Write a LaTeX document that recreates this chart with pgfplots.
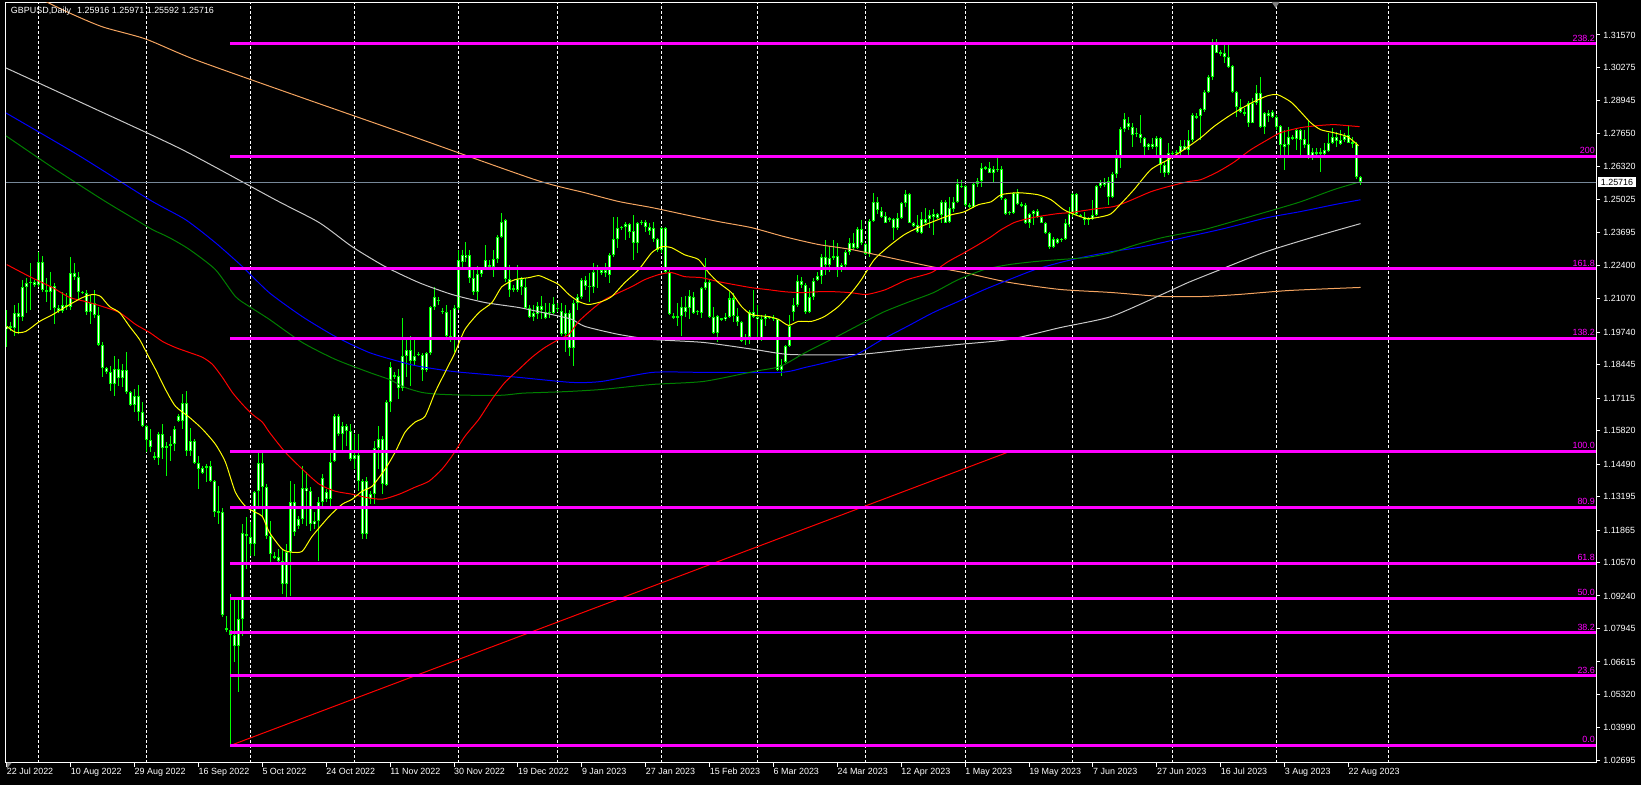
\documentclass[border=0pt]{standalone}
\usepackage{pgfplots}
\pgfplotsset{compat=1.18}
\usepackage{pgfplotstable}
\usepackage{fontspec}
\setmainfont{Liberation Sans}
\pgfdeclarelayer{background}
\pgfsetlayers{background,main}
\definecolor{candle}{RGB}{0,255,0}
\definecolor{fibo}{RGB}{255,0,255}
\definecolor{maA}{RGB}{255,255,0}
\definecolor{maB}{RGB}{255,0,0}
\definecolor{maC}{RGB}{0,128,0}
\definecolor{maD}{RGB}{0,0,255}
\definecolor{maE}{RGB}{200,200,200}
\definecolor{maF}{RGB}{244,164,96}
\definecolor{pline}{RGB}{119,136,153}

\pgfplotstableread{
i o h l c
0 1.1985 1.2064 1.1917 1.1997
1 1.1997 1.2013 1.1977 1.1989
2 1.1989 1.2084 1.1957 1.2052
3 1.2052 1.2092 1.1965 1.2036
4 1.2036 1.2183 1.2017 1.2155
5 1.2155 1.2191 1.2052 1.2171
6 1.2171 1.2251 1.2064 1.2175
7 1.2175 1.2183 1.2155 1.2163
8 1.2163 1.2294 1.2155 1.2255
9 1.2255 1.2278 1.2135 1.2143
10 1.2143 1.2191 1.2096 1.2135
11 1.2135 1.2215 1.2064 1.2159
12 1.2159 1.2171 1.2005 1.2072
13 1.2072 1.2084 1.2052 1.2060
14 1.2060 1.2135 1.2052 1.2084
15 1.2084 1.2131 1.2064 1.2076
16 1.2076 1.2275 1.2064 1.2211
17 1.2211 1.2251 1.2183 1.2195
18 1.2195 1.2215 1.2104 1.2135
19 1.2135 1.2139 1.2124 1.2131
20 1.2131 1.2143 1.2044 1.2056
21 1.2056 1.2124 1.2005 1.2092
22 1.2092 1.2143 1.2032 1.2044
23 1.2044 1.2076 1.1917 1.1925
24 1.1925 1.1933 1.1794 1.1830
25 1.1830 1.1834 1.1806 1.1814
26 1.1814 1.1838 1.1738 1.1766
27 1.1766 1.1878 1.1719 1.1826
28 1.1826 1.1866 1.1758 1.1790
29 1.1790 1.1846 1.1754 1.1822
30 1.1822 1.1897 1.1727 1.1734
31 1.1734 1.1738 1.1679 1.1683
32 1.1683 1.1746 1.1655 1.1719
33 1.1719 1.1762 1.1620 1.1655
34 1.1655 1.1695 1.1596 1.1600
35 1.1600 1.1604 1.1496 1.1544
36 1.1544 1.1588 1.1496 1.1516
37 1.1481 1.1496 1.1465 1.1473
38 1.1473 1.1576 1.1445 1.1568
39 1.1568 1.1608 1.1469 1.1512
40 1.1512 1.1536 1.1401 1.1520
41 1.1520 1.1560 1.1461 1.1528
42 1.1528 1.1600 1.1500 1.1588
43 1.1620 1.1647 1.1616 1.1639
44 1.1620 1.1727 1.1588 1.1691
45 1.1691 1.1738 1.1481 1.1500
46 1.1500 1.1592 1.1481 1.1540
47 1.1540 1.1548 1.1449 1.1453
48 1.1453 1.1481 1.1349 1.1429
49 1.1433 1.1441 1.1409 1.1413
50 1.1437 1.1449 1.1377 1.1441
51 1.1441 1.1461 1.1377 1.1381
52 1.1381 1.1385 1.1237 1.1257
53 1.1257 1.1361 1.1210 1.1261
54 1.1257 1.1273 1.0840 1.0848
55 1.0797 1.0844 1.0781 1.0789
56 1.0789 1.0932 1.0328 1.0769
57 1.0769 1.0912 1.0662 1.0725
58 1.0725 1.0920 1.0542 1.0833
59 1.0833 1.1210 1.0765 1.1174
60 1.1170 1.1237 1.1031 1.1166
61 1.1158 1.1218 1.1083 1.1130
62 1.1130 1.1341 1.1083 1.1337
63 1.1341 1.1492 1.1281 1.1453
64 1.1453 1.1496 1.1241 1.1357
65 1.1357 1.1369 1.1150 1.1162
66 1.1162 1.1222 1.1059 1.1090
67 1.1079 1.1098 1.1071 1.1083
68 1.1079 1.1110 1.1051 1.1063
69 1.1063 1.1110 1.0932 1.0971
70 1.0971 1.1130 1.0920 1.1098
71 1.1098 1.1381 1.0924 1.1297
72 1.1297 1.1369 1.1162 1.1178
73 1.1202 1.1241 1.1190 1.1230
74 1.1230 1.1441 1.1210 1.1353
75 1.1353 1.1417 1.1202 1.1341
76 1.1341 1.1357 1.1182 1.1210
77 1.1210 1.1257 1.1190 1.1222
78 1.1222 1.1318 1.1063 1.1297
79 1.1297 1.1409 1.1269 1.1393
80 1.1337 1.1349 1.1297 1.1309
81 1.1309 1.1500 1.1269 1.1457
82 1.1461 1.1647 1.1457 1.1639
83 1.1639 1.1647 1.1560 1.1568
84 1.1568 1.1616 1.1504 1.1600
85 1.1600 1.1608 1.1520 1.1580
86 1.1580 1.1608 1.1461 1.1469
87 1.1469 1.1568 1.1429 1.1484
88 1.1484 1.1568 1.1341 1.1381
89 1.1381 1.1389 1.1150 1.1170
90 1.1170 1.1397 1.1150 1.1381
91 1.1330 1.1341 1.1289 1.1309
92 1.1330 1.1540 1.1289 1.1512
93 1.1512 1.1600 1.1429 1.1548
94 1.1548 1.1560 1.1330 1.1369
95 1.1365 1.1703 1.1361 1.1695
96 1.1695 1.1854 1.1655 1.1834
97 1.1802 1.1814 1.1786 1.1798
98 1.1798 1.1826 1.1707 1.1750
99 1.1750 1.2032 1.1738 1.1878
100 1.1878 1.1945 1.1794 1.1905
101 1.1905 1.1957 1.1758 1.1858
102 1.1858 1.1945 1.1838 1.1881
103 1.1889 1.1897 1.1881 1.1885
104 1.1885 1.1893 1.1778 1.1822
105 1.1822 1.1897 1.1814 1.1893
106 1.1893 1.2080 1.1885 1.2076
107 1.2076 1.2155 1.2064 1.2112
108 1.2104 1.2112 1.2084 1.2100
109 1.2060 1.2072 1.2048 1.2056
110 1.2056 1.2084 1.1945 1.1957
111 1.1957 1.2064 1.1933 1.1945
112 1.1945 1.2084 1.1897 1.2072
113 1.2072 1.2302 1.2064 1.2263
114 1.2255 1.2302 1.2223 1.2282
115 1.2271 1.2334 1.2255 1.2282
116 1.2282 1.2302 1.2171 1.2191
117 1.2191 1.2235 1.2124 1.2135
118 1.2135 1.2239 1.2104 1.2207
119 1.2207 1.2235 1.2195 1.2231
120 1.2231 1.2322 1.2223 1.2263
121 1.2243 1.2263 1.2223 1.2235
122 1.2235 1.2302 1.2195 1.2267
123 1.2267 1.2362 1.2251 1.2354
124 1.2354 1.2449 1.2350 1.2413
125 1.2422 1.2426 1.2175 1.2187
126 1.2187 1.2243 1.2116 1.2143
127 1.2151 1.2163 1.2135 1.2143
128 1.2143 1.2243 1.2135 1.2187
129 1.2187 1.2195 1.2124 1.2155
130 1.2155 1.2191 1.2068 1.2072
131 1.2072 1.2084 1.2032 1.2036
132 1.2036 1.2084 1.2017 1.2052
133 1.2048 1.2096 1.2025 1.2080
134 1.2080 1.2116 1.2025 1.2064
135 1.2056 1.2092 1.2025 1.2032
136 1.2052 1.2092 1.2032 1.2056
137 1.2052 1.2116 1.2048 1.2088
138 1.2072 1.2092 1.2056 1.2068
139 1.2060 1.2092 1.1957 1.1965
140 1.1965 1.2084 1.1897 1.2052
141 1.2052 1.2064 1.1878 1.1913
142 1.1913 1.2104 1.1838 1.2092
143 1.2092 1.2124 1.2064 1.2116
144 1.2116 1.2191 1.2108 1.2183
145 1.2183 1.2199 1.2143 1.2159
146 1.2159 1.2211 1.2096 1.2155
147 1.2155 1.2251 1.2131 1.2215
148 1.2223 1.2243 1.2151 1.2231
149 1.2223 1.2231 1.2203 1.2211
150 1.2211 1.2251 1.2195 1.2223
151 1.2203 1.2290 1.2171 1.2282
152 1.2282 1.2433 1.2275 1.2346
153 1.2346 1.2433 1.2310 1.2390
154 1.2390 1.2398 1.2382 1.2394
155 1.2394 1.2414 1.2342 1.2406
156 1.2406 1.2410 1.2350 1.2374
157 1.2378 1.2441 1.2263 1.2330
158 1.2330 1.2414 1.2290 1.2410
159 1.2410 1.2422 1.2402 1.2414
160 1.2414 1.2422 1.2374 1.2394
161 1.2394 1.2410 1.2362 1.2378
162 1.2390 1.2414 1.2334 1.2346
163 1.2346 1.2350 1.2294 1.2302
164 1.2302 1.2394 1.2290 1.2390
165 1.2390 1.2394 1.2211 1.2215
166 1.2215 1.2223 1.2044 1.2048
167 1.2040 1.2052 1.2028 1.2032
168 1.2032 1.2092 1.1997 1.2040
169 1.2040 1.2116 1.1957 1.2076
170 1.2076 1.2116 1.2036 1.2056
171 1.2072 1.2143 1.2025 1.2116
172 1.2116 1.2135 1.2048 1.2052
173 1.2056 1.2064 1.2044 1.2060
174 1.2052 1.2155 1.2032 1.2151
175 1.2151 1.2271 1.2143 1.2175
176 1.2175 1.2183 1.2032 1.2036
177 1.2036 1.2076 1.1965 1.1969
178 1.1969 1.2044 1.1933 1.2040
179 1.2028 1.2032 1.2017 1.2025
180 1.2025 1.2052 1.2017 1.2036
181 1.2036 1.2135 1.2032 1.2108
182 1.2108 1.2131 1.2013 1.2040
183 1.2040 1.2072 1.1997 1.2013
184 1.2013 1.2017 1.1933 1.1937
185 1.1945 1.1965 1.1925 1.1953
186 1.1953 1.2064 1.1925 1.2056
187 1.2056 1.2143 1.2032 1.2036
188 1.2036 1.2084 1.1953 1.2025
189 1.2025 1.2044 1.1937 1.1945
190 1.2028 1.2048 1.1997 1.2040
191 1.2036 1.2040 1.2025 1.2032
192 1.2032 1.2044 1.2017 1.2025
193 1.2025 1.2028 1.1818 1.1822
194 1.1822 1.1866 1.1798 1.1842
195 1.1854 1.1925 1.1850 1.1921
196 1.1921 1.2044 1.1917 1.1997
197 1.2056 1.2112 1.2017 1.2084
198 1.2084 1.2203 1.2076 1.2179
199 1.2179 1.2195 1.2151 1.2163
200 1.2163 1.2171 1.2048 1.2056
201 1.2056 1.2151 1.2052 1.2116
202 1.2116 1.2191 1.2104 1.2179
203 1.2183 1.2215 1.2179 1.2199
204 1.2199 1.2286 1.2167 1.2275
205 1.2275 1.2342 1.2203 1.2243
206 1.2243 1.2318 1.2215 1.2271
207 1.2271 1.2342 1.2263 1.2278
208 1.2278 1.2330 1.2195 1.2231
209 1.2231 1.2251 1.2215 1.2243
210 1.2243 1.2302 1.2223 1.2294
211 1.2294 1.2350 1.2282 1.2330
212 1.2330 1.2370 1.2302 1.2310
213 1.2310 1.2394 1.2306 1.2386
214 1.2386 1.2422 1.2322 1.2330
215 1.2326 1.2330 1.2282 1.2286
216 1.2286 1.2426 1.2275 1.2418
217 1.2418 1.2529 1.2414 1.2493
218 1.2493 1.2513 1.2445 1.2461
219 1.2457 1.2473 1.2429 1.2433
220 1.2437 1.2453 1.2410 1.2410
221 1.2422 1.2433 1.2414 1.2429
222 1.2426 1.2429 1.2342 1.2390
223 1.2390 1.2449 1.2382 1.2429
224 1.2429 1.2493 1.2426 1.2489
225 1.2489 1.2541 1.2473 1.2525
226 1.2525 1.2529 1.2410 1.2410
227 1.2410 1.2414 1.2394 1.2398
228 1.2402 1.2441 1.2370 1.2374
229 1.2370 1.2453 1.2366 1.2426
230 1.2426 1.2469 1.2402 1.2410
231 1.2426 1.2461 1.2390 1.2441
232 1.2445 1.2465 1.2362 1.2433
233 1.2429 1.2449 1.2426 1.2445
234 1.2441 1.2501 1.2410 1.2493
235 1.2493 1.2501 1.2410 1.2410
236 1.2414 1.2513 1.2410 1.2469
237 1.2465 1.2513 1.2453 1.2493
238 1.2493 1.2585 1.2489 1.2565
239 1.2557 1.2581 1.2549 1.2553
240 1.2557 1.2561 1.2473 1.2481
241 1.2481 1.2489 1.2469 1.2473
242 1.2473 1.2573 1.2469 1.2565
243 1.2565 1.2589 1.2553 1.2577
244 1.2577 1.2649 1.2553 1.2629
245 1.2625 1.2637 1.2621 1.2633
246 1.2629 1.2653 1.2609 1.2609
247 1.2609 1.2637 1.2573 1.2625
248 1.2625 1.2680 1.2613 1.2621
249 1.2625 1.2637 1.2501 1.2509
250 1.2505 1.2509 1.2441 1.2445
251 1.2453 1.2457 1.2441 1.2449
252 1.2449 1.2533 1.2445 1.2529
253 1.2529 1.2545 1.2481 1.2485
254 1.2485 1.2493 1.2473 1.2477
255 1.2481 1.2489 1.2406 1.2410
256 1.2410 1.2449 1.2390 1.2445
257 1.2445 1.2461 1.2402 1.2457
258 1.2457 1.2465 1.2429 1.2433
259 1.2433 1.2437 1.2410 1.2410
260 1.2410 1.2414 1.2366 1.2370
261 1.2370 1.2374 1.2306 1.2314
262 1.2314 1.2354 1.2310 1.2346
263 1.2346 1.2350 1.2326 1.2330
264 1.2342 1.2350 1.2334 1.2346
265 1.2346 1.2426 1.2342 1.2410
266 1.2402 1.2473 1.2394 1.2445
267 1.2445 1.2529 1.2433 1.2525
268 1.2525 1.2529 1.2441 1.2445
269 1.2441 1.2445 1.2433 1.2433
270 1.2433 1.2453 1.2402 1.2422
271 1.2422 1.2433 1.2402 1.2426
272 1.2426 1.2501 1.2422 1.2441
273 1.2441 1.2561 1.2437 1.2557
274 1.2557 1.2581 1.2549 1.2573
275 1.2573 1.2589 1.2553 1.2561
276 1.2577 1.2593 1.2481 1.2513
277 1.2513 1.2613 1.2509 1.2605
278 1.2605 1.2700 1.2589 1.2669
279 1.2669 1.2792 1.2629 1.2784
280 1.2784 1.2847 1.2772 1.2824
281 1.2808 1.2831 1.2780 1.2792
282 1.2792 1.2808 1.2712 1.2760
283 1.2768 1.2788 1.2752 1.2764
284 1.2764 1.2839 1.2728 1.2748
285 1.2748 1.2752 1.2680 1.2712
286 1.2712 1.2728 1.2700 1.2724
287 1.2724 1.2748 1.2704 1.2712
288 1.2712 1.2756 1.2676 1.2748
289 1.2748 1.2752 1.2609 1.2641
290 1.2641 1.2653 1.2593 1.2609
291 1.2609 1.2728 1.2601 1.2688
292 1.2684 1.2696 1.2669 1.2688
293 1.2688 1.2700 1.2672 1.2692
294 1.2692 1.2740 1.2680 1.2716
295 1.2716 1.2740 1.2700 1.2700
296 1.2700 1.2780 1.2669 1.2740
297 1.2740 1.2847 1.2732 1.2839
298 1.2835 1.2847 1.2824 1.2827
299 1.2835 1.2867 1.2740 1.2863
300 1.2859 1.2938 1.2851 1.2930
301 1.2930 1.2998 1.2926 1.2990
302 1.2990 1.3141 1.2978 1.3125
303 1.3125 1.3141 1.3085 1.3085
304 1.3089 1.3097 1.3073 1.3081
305 1.3085 1.3117 1.3046 1.3070
306 1.3070 1.3125 1.3026 1.3030
307 1.3034 1.3038 1.2926 1.2930
308 1.2930 1.2934 1.2831 1.2871
309 1.2871 1.2903 1.2847 1.2851
310 1.2851 1.2867 1.2835 1.2843
311 1.2808 1.2895 1.2792 1.2887
312 1.2887 1.2907 1.2808 1.2808
313 1.2887 1.2958 1.2879 1.2926
314 1.2926 1.2990 1.2788 1.2792
315 1.2792 1.2851 1.2764 1.2847
316 1.2847 1.2859 1.2812 1.2835
317 1.2851 1.2859 1.2827 1.2831
318 1.2831 1.2839 1.2780 1.2792
319 1.2796 1.2800 1.2676 1.2720
320 1.2724 1.2780 1.2621 1.2712
321 1.2720 1.2792 1.2680 1.2752
322 1.2744 1.2760 1.2740 1.2752
323 1.2744 1.2788 1.2700 1.2780
324 1.2780 1.2784 1.2680 1.2740
325 1.2744 1.2780 1.2708 1.2720
326 1.2724 1.2820 1.2665 1.2669
327 1.2669 1.2708 1.2661 1.2692
328 1.2692 1.2708 1.2680 1.2684
329 1.2692 1.2708 1.2613 1.2684
330 1.2684 1.2728 1.2680 1.2700
331 1.2696 1.2768 1.2692 1.2728
332 1.2728 1.2788 1.2724 1.2752
333 1.2752 1.2772 1.2712 1.2736
334 1.2740 1.2780 1.2720 1.2724
335 1.2740 1.2768 1.2732 1.2756
336 1.2760 1.2800 1.2728 1.2728
337 1.2732 1.2752 1.2708 1.2724
338 1.2724 1.2732 1.2585 1.2593
339 1.2592 1.2597 1.2559 1.2572
}\candles

\begin{document}
\pagecolor{black}
\begin{tikzpicture}[x=1bp,y=1bp]
\begin{axis}[
  scale only axis, width=1593bp, height=761bp,
  xmin=-0.25, xmax=398, ymin=1.02604, ymax=1.32842,
  axis line style={white, line width=1bp},
  xtick={0,16,...,336},
  xticklabels={22 Jul 2022,10 Aug 2022,29 Aug 2022,16 Sep 2022,5 Oct 2022,24 Oct 2022,11 Nov 2022,30 Nov 2022,19 Dec 2022,9 Jan 2023,27 Jan 2023,15 Feb 2023,6 Mar 2023,24 Mar 2023,12 Apr 2023,1 May 2023,19 May 2023,7 Jun 2023,27 Jun 2023,16 Jul 2023,3 Aug 2023,22 Aug 2023},
  ytick={1.31570,1.30275,1.28945,1.27650,1.26320,1.25025,1.23695,1.22400,1.21070,1.19740,1.18445,1.17115,1.15820,1.14490,1.13195,1.11865,1.10570,1.09240,1.07945,1.06615,1.05320,1.03990,1.02695},
  yticklabels={1.31570,1.30275,1.28945,1.27650,1.26320,1.25025,1.23695,1.22400,1.21070,1.19740,1.18445,1.17115,1.15820,1.14490,1.13195,1.11865,1.10570,1.09240,1.07945,1.06615,1.05320,1.03990,1.02695},
  xtick pos=bottom, ytick pos=right,
  tick align=outside, major tick length=4bp,
  tick style={white, line width=1bp},
  ticklabel style={white, font=\fontsize{9}{10}\selectfont, inner sep=0pt},
  xticklabel style={anchor=north west, yshift=-1bp},
  yticklabel style={anchor=west, xshift=3bp},
  major grid style={white, line width=1bp, dash pattern=on 3bp off 2bp},
  extra x ticks={8,35,61,87,113,138,164,188,215,240,267,292,318,346},
  extra x tick labels={},
  extra x tick style={grid=major, major tick length=0pt},
  every axis plot/.append style={line join=round},
]
% candle wicks
\addplot[draw=none, mark=none, error bars/.cd, y dir=both, y explicit, error mark=none,
  error bar style={draw=candle, line width=1bp}]
  table[x=i, y expr={(\thisrow{h}+\thisrow{l})/2}, y error expr={(\thisrow{h}-\thisrow{l})/2}] {\candles};
% candle bodies (outline)
\addplot[draw=none, mark=none, error bars/.cd, y dir=both, y explicit, error mark=none,
  error bar style={draw=candle, line width=3bp}]
  table[x=i, y expr={(\thisrow{o}+\thisrow{c})/2}, y error expr={max(abs(\thisrow{o}-\thisrow{c})/2,0.0002)}] {\candles};
% candle bodies (fill)
\addplot[draw=none, mark=none, error bars/.cd, y dir=both, y explicit, error mark=none,
  error bar style={draw=white, line width=1bp}]
  table[x=i, y expr={(\thisrow{o}+\thisrow{c})/2}, y error expr={max(abs(\thisrow{o}-\thisrow{c})/2-0.0004,0)}] {\candles};

% moving averages
\addplot[maF, line width=1bp, smooth, tension=0.4] coordinates {(9,1.3296) (15.75,1.3244) (24,1.3189) (34.75,1.3141) (47.25,1.3058) (74,1.2907) (99,1.2768) (132.25,1.2581) (144.75,1.2529) (153.25,1.2494) (161.5,1.2470) (169.75,1.2442) (178.25,1.2414) (186.5,1.2390) (194.75,1.2354) (203.25,1.2323) (211.5,1.2303) (223.25,1.2263) (231.5,1.2235) (239.75,1.2211) (251,1.2172) (263.75,1.2144) (276.5,1.2132) (289.25,1.2116) (299.5,1.2116) (308.5,1.2124) (321.25,1.2140) (339,1.2152)};
\addplot[maE, line width=1bp, smooth, tension=0.4] coordinates {(-0.25,1.3026) (21.5,1.2867) (44,1.2700) (67.25,1.2501) (78.25,1.2410) (86.5,1.2314) (94.75,1.2235) (103.25,1.2171) (111.5,1.2124) (119.75,1.2092) (128.25,1.2072) (136.5,1.2044) (141.5,1.2025) (144.75,1.1997) (153.25,1.1965) (161.75,1.1945) (174.5,1.1933) (187.25,1.1905) (196.25,1.1885) (212.75,1.1885) (225.5,1.1905) (238.25,1.1925) (251,1.1945) (263.75,1.1992) (276.5,1.2036) (289.25,1.2124) (295.75,1.2171) (302,1.2211) (314.75,1.2291) (327.5,1.2354) (339,1.2406)};
\addplot[maD, line width=1bp, smooth, tension=0.4] coordinates {(-0.25,1.2847) (17.75,1.2680) (35.75,1.2501) (44.75,1.2422) (52.25,1.2330) (59,1.2235) (65.75,1.2131) (74,1.2036) (82.25,1.1957) (90.75,1.1893) (99,1.1854) (103.25,1.1838) (111.5,1.1818) (119.75,1.1806) (128.25,1.1794) (141.5,1.1774) (149,1.1778) (161.75,1.1814) (174.5,1.1814) (193.75,1.1814) (200,1.1834) (206.5,1.1858) (212.75,1.1885) (219.25,1.1945) (225.5,1.1997) (232,1.2052) (238.25,1.2096) (244.75,1.2143) (251,1.2183) (257.5,1.2223) (263.75,1.2251) (270.25,1.2275) (276.5,1.2294) (283,1.2310) (289.25,1.2330) (295.75,1.2354) (304.75,1.2386) (315.75,1.2430) (324,1.2454) (332.25,1.2481) (339,1.2501)};
\addplot[maC, line width=1bp, smooth, tension=0.4] coordinates {(-0.25,1.2756) (11.5,1.2629) (24,1.2501) (32.25,1.2422) (36.5,1.2382) (40.75,1.2350) (45.75,1.2303) (52.25,1.2223) (57.25,1.2116) (60.75,1.2076) (65.75,1.2025) (74,1.1933) (82.25,1.1866) (90.75,1.1814) (95.75,1.1786) (99.75,1.1754) (104,1.1734) (108.25,1.1727) (115.75,1.1723) (124,1.1723) (129,1.1731) (134,1.1734) (140.75,1.1738) (149,1.1746) (161.75,1.1766) (174.5,1.1778) (187.25,1.1818) (193.75,1.1838) (200,1.1893) (206.5,1.1945) (212.75,1.1997) (219.25,1.2052) (225.5,1.2092) (232,1.2131) (238.25,1.2183) (244.75,1.2223) (251,1.2243) (257.5,1.2255) (263.75,1.2263) (270.25,1.2271) (276.5,1.2290) (283,1.2323) (289.25,1.2350) (295.75,1.2370) (300.75,1.2386) (315.75,1.2454) (324,1.2493) (332.25,1.2541) (339,1.2573)};
\addplot[maB, line width=1bp, smooth, tension=0.4] coordinates {(0,1.2243) (5.75,1.2195) (11.5,1.2151) (15.75,1.2112) (19.75,1.2096) (24,1.2076) (28.25,1.2052) (32.25,1.2005) (35.75,1.1973) (39,1.1937) (42.25,1.1913) (45.75,1.1893) (49,1.1874) (51.5,1.1846) (54,1.1794) (56.5,1.1734) (59,1.1687) (61.5,1.1647) (64,1.1616) (65.75,1.1576) (69.75,1.1496) (74,1.1429) (78.25,1.1369) (82.25,1.1341) (86.5,1.1329) (89.75,1.1317) (94,1.1309) (98.25,1.1329) (102.25,1.1357) (105.75,1.1381) (109,1.1429) (111.5,1.1481) (114.75,1.1560) (118.25,1.1628) (121.5,1.1707) (124.75,1.1774) (128.25,1.1826) (131.5,1.1874) (134.75,1.1913) (138.25,1.1945) (140.75,1.1965) (143.25,1.2017) (146.5,1.2064) (149.75,1.2104) (153.25,1.2131) (156.5,1.2155) (159.75,1.2183) (163.25,1.2203) (166.5,1.2211) (169.75,1.2195) (174,1.2191) (178.25,1.2175) (182.25,1.2163) (186.5,1.2151) (190.75,1.2143) (194.75,1.2135) (199,1.2131) (203.25,1.2135) (207.25,1.2135) (211.5,1.2131) (215.25,1.2124) (220,1.2143) (225.5,1.2183) (231.5,1.2211) (235.75,1.2255) (239.75,1.2290) (243.25,1.2322) (246.5,1.2354) (249,1.2382) (252.25,1.2410) (254.75,1.2422) (258.25,1.2434) (263.25,1.2446) (266.5,1.2450) (269.75,1.2458) (273.25,1.2466) (277.25,1.2474) (280.75,1.2494) (286.5,1.2533) (290.75,1.2553) (295.75,1.2573) (299,1.2581) (303.25,1.2612) (307.25,1.2650) (311.5,1.2700) (315.75,1.2740) (319,1.2768) (324,1.2788) (328.25,1.2796) (332.25,1.2800) (335.75,1.2796) (338.75,1.2792)};
\addplot[maA, line width=1bp, smooth, tension=0.4] coordinates {(0,1.1997) (2.25,1.1973) (4.75,1.1977) (8.25,1.2017) (11.5,1.2044) (15.75,1.2084) (19,1.2112) (21.5,1.2124) (23.5,1.2116) (25.75,1.2076) (28.25,1.2052) (30.75,1.1997) (33.25,1.1945) (35.25,1.1885) (37.25,1.1826) (39.75,1.1746) (42.25,1.1679) (45.75,1.1635) (49,1.1588) (52.25,1.1528) (54.75,1.1457) (57.25,1.1337) (59.75,1.1281) (62.25,1.1257) (64,1.1241) (65.75,1.1178) (69,1.1110) (71.5,1.1098) (74,1.1102) (76.5,1.1162) (80.75,1.1241) (84,1.1289) (86.5,1.1309) (89,1.1341) (91.5,1.1361) (94.75,1.1429) (97.25,1.1496) (99.75,1.1576) (102.25,1.1616) (104.75,1.1639) (107.25,1.1734) (109.75,1.1814) (112.25,1.1893) (114.75,1.1985) (118.25,1.2052) (121.5,1.2092) (124,1.2155) (127.25,1.2183) (130.75,1.2191) (133.25,1.2199) (135.75,1.2183) (138.25,1.2163) (140.75,1.2124) (143.25,1.2096) (145.75,1.2084) (149,1.2096) (151.5,1.2116) (154.75,1.2171) (158.25,1.2223) (161.5,1.2290) (164,1.2314) (166.5,1.2310) (169.75,1.2282) (173.25,1.2263) (175.75,1.2211) (178.25,1.2171) (181.5,1.2131) (184,1.2076) (186.5,1.2044) (190.75,1.2036) (193.25,1.2025) (195.75,1.2001) (198.25,1.2017) (201.5,1.2017) (204.75,1.2036) (208.25,1.2076) (211.5,1.2131) (214,1.2183) (217.25,1.2263) (220.75,1.2314) (224.75,1.2362) (228.25,1.2390) (233.25,1.2422) (236.5,1.2441) (239.75,1.2453) (243.25,1.2481) (246.5,1.2493) (249,1.2521) (253.25,1.2529) (258.25,1.2521) (261.5,1.2501) (264.75,1.2461) (268.25,1.2437) (270.75,1.2426) (274,1.2433) (276.5,1.2445) (279,1.2485) (282.25,1.2541) (286.5,1.2621) (290.75,1.2660) (294.75,1.2700) (299,1.2748) (302.25,1.2792) (305.75,1.2831) (309,1.2863) (312.25,1.2891) (315.75,1.2915) (318.25,1.2919) (321.5,1.2891) (324,1.2851) (326.5,1.2808) (329,1.2780) (332.25,1.2768) (335.75,1.2752) (338.5,1.2716)};

% fibonacci trend line and levels
\addplot[red, line width=1bp] coordinates {(56,1.0329) (251.5,1.1501)};
\addplot[fibo, line width=3bp] coordinates {(56,1.0329) (398,1.0329)};
\addplot[fibo, line width=3bp] coordinates {(56,1.0606) (398,1.0606)};
\addplot[fibo, line width=3bp] coordinates {(56,1.0777) (398,1.0777)};
\addplot[fibo, line width=3bp] coordinates {(56,1.0915) (398,1.0915)};
\addplot[fibo, line width=3bp] coordinates {(56,1.1053) (398,1.1053)};
\addplot[fibo, line width=3bp] coordinates {(56,1.1278) (398,1.1278)};
\addplot[fibo, line width=3bp] coordinates {(56,1.1501) (398,1.1501)};
\addplot[fibo, line width=3bp] coordinates {(56,1.1949) (398,1.1949)};
\addplot[fibo, line width=3bp] coordinates {(56,1.2226) (398,1.2226)};
\addplot[fibo, line width=3bp] coordinates {(56,1.2673) (398,1.2673)};
\addplot[fibo, line width=3bp] coordinates {(56,1.3121) (398,1.3121)};
\begin{scope}[every node/.style={anchor=south east, text=fibo, inner sep=0pt, font=\fontsize{9}{10}\selectfont, xshift=-1bp, yshift=2.5bp}]
\node at (axis cs:398,1.0329) {0.0};
\node at (axis cs:398,1.0606) {23.6};
\node at (axis cs:398,1.0777) {38.2};
\node at (axis cs:398,1.0915) {50.0};
\node at (axis cs:398,1.1053) {61.8};
\node at (axis cs:398,1.1278) {80.9};
\node at (axis cs:398,1.1501) {100.0};
\node at (axis cs:398,1.1949) {138.2};
\node at (axis cs:398,1.2226) {161.8};
\node at (axis cs:398,1.2673) {200};
\node at (axis cs:398,1.3121) {238.2};
\end{scope}
% current price line
\addplot[pline, line width=1bp] coordinates {(-0.25,1.25716) (398,1.25716)};
\coordinate (pbox) at (axis cs:398,1.25716);
\coordinate (bl) at (rel axis cs:0,0);
\end{axis}
\node[anchor=west, fill=white, text=black, inner xsep=3bp, inner ysep=1.8bp, font=\fontsize{9}{10}\selectfont] at ([xshift=1.5bp]pbox) {1.25716};
\node[anchor=west, text=white, inner sep=0pt, font=\fontsize{9}{10}\selectfont] at ([shift={(5,753)}]bl) {GBPUSD,Daily\hspace{6bp}1.25916 1.25971 1.25592 1.25716};
\fill[gray] ([shift={(1268,762)}]bl) -- ([shift={(1276,762)}]bl) -- ([shift={(1272,756)}]bl) -- cycle;
\fill[gray] ([shift={(1,0)}]bl) -- ([shift={(1,-6)}]bl) -- ([shift={(6,0)}]bl) -- cycle;
\begin{pgfonlayer}{background}
\fill[black] ([shift={(-3,-22)}]bl) rectangle ([shift={(1638,764)}]bl);
\end{pgfonlayer}
\pgfresetboundingbox
\path ([shift={(-3,-22)}]bl) rectangle ([shift={(1638,764)}]bl);
\end{tikzpicture}
\end{document}
